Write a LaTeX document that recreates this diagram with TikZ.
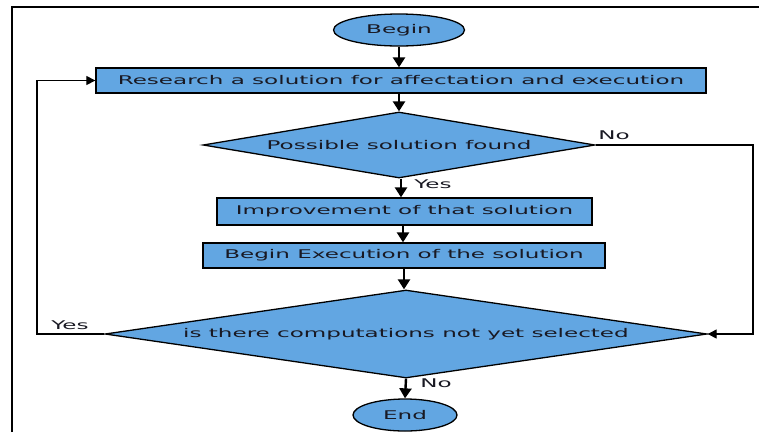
\documentclass[tikz,border=0pt]{standalone}
\usepackage{fontspec}
\setmainfont{DejaVu Sans}[FakeStretch=1.92]
\usetikzlibrary{shapes.geometric,arrows.meta}
\definecolor{boxblue}{RGB}{98,166,226}
\definecolor{txt}{RGB}{25,25,35}
\tikzset{
  base/.style={draw=black, line width=1.3pt, fill=boxblue, inner sep=0pt, text=txt, font=\fontsize{12}{14}\selectfont},
  term/.style={base, ellipse},
  procbox/.style={base, rectangle},
  decide/.style={base, diamond},
  flow/.style={line width=2.4pt, -{Triangle[length=10pt,width=12pt]}},
  loopline/.style={line width=1.1pt, -{Triangle[length=9pt,width=9pt]}},
  lbl/.style={font=\fontsize{12}{14}\selectfont, text=txt, inner sep=0pt}
}
\begin{document}
\begin{tikzpicture}[x=1pt,y=-1pt]
\useasboundingbox (0,0) rectangle (759,432);
% frame
\draw[line width=2pt] (12,432) -- (12,7) -- (759,7);

\node[term, minimum width=131pt, minimum height=32pt] (begin) at (399,30) {Begin};
\node[procbox, minimum width=610pt, minimum height=25pt] (research) at (401,80.5) {Research a solution for affectation and execution};
\node[decide, minimum width=392pt, minimum height=66pt, aspect=5.9] (d1) at (399,145) {Possible solution found};
\node[procbox, minimum width=375pt, minimum height=27pt] (imp) at (404.5,211.5) {Improvement of that solution};
\node[procbox, minimum width=402pt, minimum height=25pt] (exec) at (404,255.5) {Begin Execution of the solution};
\node[decide, minimum width=602pt, minimum height=88pt, aspect=6.8] (d2) at (406,334) {is there computations not yet selected};
\node[term, minimum width=104pt, minimum height=32pt] (end) at (405,415) {End};

\coordinate (lc) at (37,0);
\coordinate (rc) at (753,0);

\draw[flow] (begin.south) -- (begin.south |- research.north);
\draw[flow] (d1.north |- research.south) -- (d1.north);
\draw[flow] (401,0 |- d1.south) -- (401,0 |- imp.north);
\draw[flow] (403,0 |- imp.south) -- (403,0 |- exec.north);
\draw[flow] (404,0 |- exec.south) -- (404,0 |- d2.north);
\draw[flow] (d2.south) -- (end.north);

\draw[loopline] (d2.west) -- (lc |- d2.west) -- (lc |- research.west) -- (research.west);
\draw[loopline] (d1.east) -- (rc |- d1.east) -- (rc |- d2.east) -- (d2.east);

\node[lbl] (yes1) at (433,184) {Yes};
\node[lbl] (no1) at (436,383) {No};
\node[lbl] (yes2) at (70,325) {Yes};
\node[lbl] (no2) at (614,135) {No};
\end{tikzpicture}
\end{document}
